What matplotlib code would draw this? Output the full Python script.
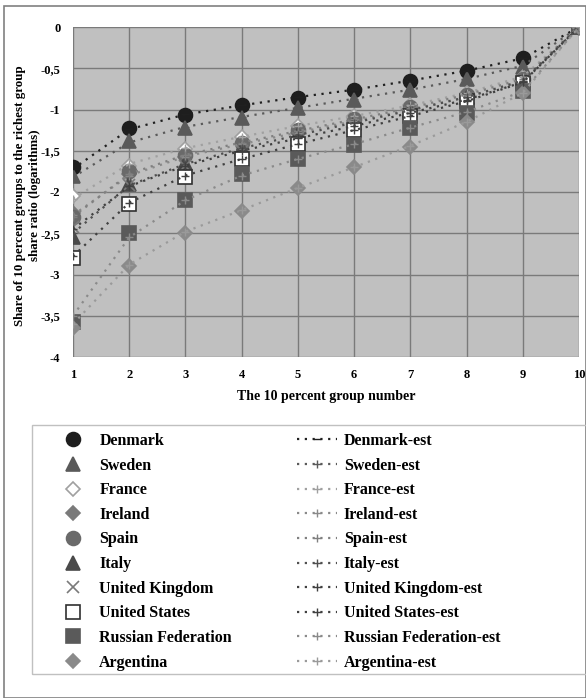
import matplotlib
matplotlib.use('Agg')
import matplotlib.pyplot as plt
from matplotlib.patches import Rectangle

plt.rcParams['font.family'] = 'Liberation Serif'
plt.rcParams['font.weight'] = 'bold'

# data
groups = [1, 2, 3, 4, 5, 6, 7, 8, 9, 10]

denmark = [-1.70, -1.22, -1.07, -0.95, -0.86, -0.76, -0.66, -0.53, -0.38, 0]
sweden = [-1.80, -1.38, -1.22, -1.10, -0.98, -0.88, -0.76, -0.63, -0.48, 0]
france = [-2.05, -1.68, -1.48, -1.33, -1.20, -1.08, -0.95, -0.80, -0.60, 0]
ireland = [-2.25, -1.78, -1.57, -1.42, -1.28, -1.14, -1.00, -0.86, -0.66, 0]
spain = [-2.30, -1.75, -1.55, -1.40, -1.25, -1.12, -0.97, -0.82, -0.63, 0]
italy = [-2.55, -1.90, -1.65, -1.47, -1.30, -1.16, -1.00, -0.85, -0.65, 0]
uk = [-2.42, -1.92, -1.68, -1.50, -1.35, -1.20, -1.04, -0.88, -0.68, 0]
us = [-2.80, -2.15, -1.82, -1.60, -1.42, -1.25, -1.08, -0.90, -0.68, 0]
russia = [-3.58, -2.50, -2.10, -1.78, -1.60, -1.43, -1.22, -1.04, -0.78, 0]
argentina = [-3.65, -2.90, -2.50, -2.23, -1.95, -1.70, -1.45, -1.15, -0.80, 0]

denmark_est = [-1.72, -1.24, -1.06, -0.95, -0.85, -0.76, -0.65, -0.53, -0.38, 0]
sweden_est = [-1.82, -1.40, -1.21, -1.09, -0.98, -0.87, -0.76, -0.63, -0.47, 0]
france_est = [-2.08, -1.66, -1.47, -1.33, -1.20, -1.08, -0.95, -0.80, -0.60, 0]
ireland_est = [-2.28, -1.80, -1.57, -1.42, -1.28, -1.14, -1.00, -0.85, -0.66, 0]
spain_est = [-2.30, -1.78, -1.55, -1.40, -1.26, -1.12, -0.98, -0.82, -0.63, 0]
italy_est = [-2.50, -1.92, -1.66, -1.47, -1.31, -1.16, -1.01, -0.85, -0.65, 0]
uk_est = [-2.45, -1.93, -1.68, -1.50, -1.35, -1.20, -1.04, -0.88, -0.67, 0]
us_est = [-2.78, -2.13, -1.80, -1.60, -1.42, -1.25, -1.08, -0.90, -0.67, 0]
russia_est = [-3.50, -2.55, -2.10, -1.80, -1.60, -1.42, -1.22, -1.03, -0.78, 0]
argentina_est = [-3.60, -2.88, -2.48, -2.22, -1.95, -1.70, -1.44, -1.15, -0.80, 0]

names = ['Denmark', 'Sweden', 'France', 'Ireland', 'Spain', 'Italy',
         'United Kingdom', 'United States', 'Russian Federation', 'Argentina']
actual = [denmark, sweden, france, ireland, spain, italy, uk, us, russia, argentina]
estimated = [denmark_est, sweden_est, france_est, ireland_est, spain_est, italy_est,
             uk_est, us_est, russia_est, argentina_est]

# marker, face, edge, size
styles = [
    ('o', '#1e1e1e', '#1e1e1e', 10),
    ('^', '#5a5a5a', '#5a5a5a', 10),
    ('D', 'white', '#a0a0a0', 7.5),
    ('D', '#7a7a7a', '#7a7a7a', 7.5),
    ('o', '#6a6a6a', '#6a6a6a', 10),
    ('^', '#4a4a4a', '#4a4a4a', 10),
    ('x', '#7a7a7a', '#7a7a7a', 9),
    ('s', 'white', '#303030', 10),
    ('s', '#5a5a5a', '#5a5a5a', 10),
    ('D', '#8a8a8a', '#8a8a8a', 7.5),
]
est_colors = ['#202020', '#5a5a5a', '#a0a0a0', '#8a8a8a', '#808080',
              '#505050', '#404040', '#404040', '#8a8a8a', '#9a9a9a']

fig = plt.figure(figsize=(5.86, 6.98), dpi=100)
# outer frame and legend frame
fig.patches.append(Rectangle((0.006, 0.0), 0.994, 0.992, transform=fig.transFigure,
                             fill=False, edgecolor='#808080', linewidth=1.2))
fig.patches.append(Rectangle((32 / 586, 1 - 674 / 698), 0.96, (674 - 425) / 698,
                             transform=fig.transFigure, fill=False,
                             edgecolor='#c0c0c0', linewidth=1.0))

ax = fig.add_axes([73 / 586, 1 - 357 / 698, (579 - 73) / 586, (357 - 27) / 698])
ax.set_facecolor('#c0c0c0')

handles = []
for name, vals, (m, fc, ec, ms) in zip(names, actual, styles):
    h, = ax.plot(groups, vals, linestyle='none', marker=m, markerfacecolor=fc,
                 markeredgecolor=ec, markersize=ms, markeredgewidth=1.2,
                 label=name, zorder=3)
    handles.append(h)

for i, (name, vals, c) in enumerate(zip(names, estimated, est_colors)):
    mk = '_' if i == 0 else '+'
    h, = ax.plot(groups, vals, linestyle=(0, (1, 2.5)), linewidth=1.6, color=c,
                 marker=mk, markersize=6, markeredgewidth=1.0,
                 label=name + '-est', zorder=4)
    handles.append(h)

ax.set_xlim(1, 10)
ax.set_ylim(-4, 0)
ax.set_xticks(groups)
ax.set_yticks([0, -0.5, -1, -1.5, -2, -2.5, -3, -3.5, -4])
ax.set_yticklabels(['0', '-0,5', '-1', '-1,5', '-2', '-2,5', '-3', '-3,5', '-4'])
ax.tick_params(length=0, labelsize=9, pad=9)
ax.grid(True, color='#7a7a7a', linewidth=1.0)
ax.set_axisbelow(True)
for s in ax.spines.values():
    s.set_visible(False)

ax.set_xlabel('The 10 percent group number', fontsize=10, fontweight='bold', labelpad=6)
ax.set_ylabel('Share of 10 percent groups to the richest group\nshare ratio (logarithms)',
              fontsize=9.4, fontweight='bold', linespacing=1.3)
ax.yaxis.set_label_coords(-0.063, 0.49)

leg = fig.legend(handles=handles, ncol=2, loc='upper left',
                 bbox_to_anchor=(37 / 586, 1 - 417 / 698),
                 frameon=False,
                 handlelength=2.5, handletextpad=0.4, columnspacing=4.1,
                 labelspacing=0.54, borderpad=0.5, prop={'weight': 'bold', 'size': 11.5})

fig.savefig('out.png', dpi=100)
